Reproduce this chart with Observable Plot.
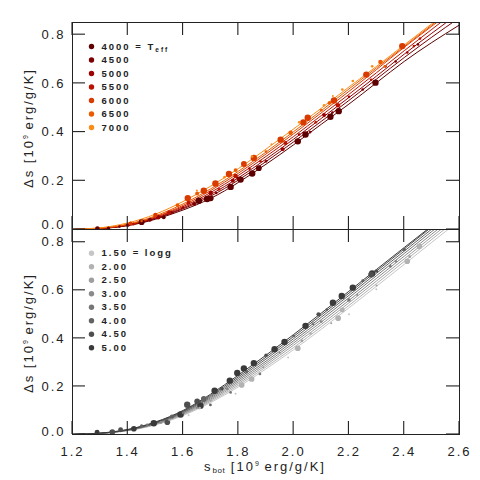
<!DOCTYPE html>
<html><head><meta charset="utf-8">
<script src="https://cdn.jsdelivr.net/npm/d3@7"></script>
<script src="https://cdn.jsdelivr.net/npm/@observablehq/plot@0.6"></script>
<style>
body{margin:0;background:#fff;}
#chart{position:relative;width:480px;height:480px;font-family:"Liberation Sans",Arial,sans-serif;color:#222;}
#chart svg{position:absolute;left:0;overflow:visible;background:none;}
.lab{position:absolute;font-size:13px;letter-spacing:2px;white-space:nowrap;color:#222;line-height:1;}
.lab sup{font-size:7px;vertical-align:5px;letter-spacing:0;}
.lab sub{font-size:8px;vertical-align:-2px;letter-spacing:0.5px;}
</style></head><body><div id="chart"></div>
<script>
// ---------- data ----------
const sGrid = [1.2,1.3,1.4,1.5,1.6,1.7,1.8,1.9,2.0,2.1,2.2,2.3,2.4,2.5,2.6];
const xTicks = [1.2,1.4,1.6,1.8,2.0,2.2,2.4,2.6];
const yTicks = [0.0,0.2,0.4,0.6,0.8];

const teffLevels = [4000,4500,5000,5500,6000,6500,7000];
const teffColors = ["#5e0000","#7d0000","#9c0000","#bb1200","#d93a00","#ec5a00","#fb8c18"];
const teffFits = [
  [0,0.004,0.016,0.042,0.080,0.128,0.193,0.268,0.348,0.432,0.515,0.603,0.690,0.768,0.840],
  [0,0.004,0.017,0.045,0.085,0.137,0.203,0.279,0.360,0.444,0.530,0.618,0.706,0.790,0.870],
  [0,0.005,0.018,0.047,0.089,0.144,0.212,0.289,0.371,0.456,0.542,0.630,0.720,0.806,0.890],
  [0,0.005,0.019,0.050,0.094,0.152,0.222,0.300,0.382,0.468,0.555,0.644,0.734,0.822,0.910],
  [0,0.005,0.020,0.052,0.099,0.160,0.231,0.310,0.393,0.479,0.567,0.657,0.748,0.835,0.920],
  [0,0.006,0.022,0.056,0.105,0.167,0.239,0.318,0.402,0.488,0.577,0.664,0.752,0.840,0.930],
  [0,0.007,0.027,0.063,0.115,0.178,0.250,0.330,0.413,0.498,0.585,0.670,0.758,0.845,0.935]
];
// points: [s_bot, Δs, logg]
const teffPoints = [
  [[1.29,0.004,3.5],[1.33,0.006,2.5],[1.45,0.030,4.5],[1.53,0.050,3],[1.657,0.118,5],[1.687,0.125,5],[1.70,0.128,4.5],[1.772,0.175,5],[1.808,0.205,5],[1.85,0.230,5],[1.874,0.252,4.5],[2.015,0.362,5],[2.043,0.390,5],[2.133,0.463,5],[2.163,0.486,5],[2.296,0.603,5]],
  [[1.37,0.012,2],[1.48,0.040,3],[1.56,0.070,2],[1.64,0.105,3],[1.72,0.150,2],[1.80,0.210,3],[1.90,0.280,2],[2.06,0.400,2],[2.14,0.480,2],[2.25,0.575,2],[2.369,0.690,2],[2.45,0.760,2]],
  [[1.40,0.018,3],[1.51,0.050,3.5],[1.60,0.090,2],[1.70,0.150,3.5],[1.78,0.200,3],[1.84,0.250,2],[1.96,0.330,3],[2.02,0.390,2],[2.11,0.470,3],[2.20,0.545,2],[2.332,0.670,2],[2.411,0.727,2]],
  [[1.42,0.022,2],[1.55,0.070,3.5],[1.62,0.110,3],[1.73,0.165,2],[1.79,0.220,3.5],[1.88,0.280,2],[1.97,0.355,3],[2.08,0.440,2],[2.16,0.510,3.5],[2.28,0.615,2],[2.435,0.753,2],[2.457,0.784,2]],
  [[1.41,0.025,3],[1.50,0.060,3.5],[1.617,0.129,5],[1.675,0.159,5],[1.717,0.189,5],[1.766,0.228,5],[1.82,0.269,4.5],[1.856,0.294,5],[1.953,0.369,5],[2.035,0.440,5],[2.051,0.459,5],[2.146,0.530,5],[2.263,0.636,5],[2.393,0.753,5]],
  [[1.45,0.035,2],[1.58,0.100,3],[1.651,0.148,3],[1.79,0.244,3],[1.90,0.320,2],[1.989,0.397,3.5],[2.10,0.490,2],[2.13,0.520,3],[2.314,0.688,3.5],[2.33,0.670,2]],
  [[1.65,0.160,1.5],[1.75,0.215,2],[1.85,0.300,2],[1.92,0.350,1.5],[2.02,0.440,2],[2.11,0.510,2],[2.142,0.548,1.5],[2.176,0.575,2],[2.214,0.610,2],[2.284,0.670,2]]
];

const loggLevels = ["1.50","2.00","2.50","3.00","3.50","4.00","4.50","5.00"];
const loggColors = ["#c6c6c6","#b2b2b2","#9e9e9e","#8a8a8a","#767676","#626262","#4e4e4e","#3a3a3a"];
const loggFits = [
  [0,0.004,0.016,0.040,0.079,0.133,0.198,0.273,0.353,0.438,0.527,0.617,0.708,0.800,0.890],
  [0,0.004,0.017,0.042,0.082,0.138,0.205,0.281,0.362,0.448,0.537,0.628,0.720,0.812,0.903],
  [0,0.004,0.017,0.043,0.085,0.143,0.212,0.289,0.372,0.458,0.548,0.639,0.731,0.823,0.915],
  [0,0.005,0.018,0.045,0.088,0.148,0.219,0.297,0.381,0.468,0.558,0.650,0.742,0.834,0.925],
  [0,0.005,0.018,0.046,0.091,0.153,0.226,0.305,0.390,0.478,0.569,0.661,0.753,0.845,0.935],
  [0,0.005,0.019,0.048,0.094,0.158,0.233,0.314,0.399,0.488,0.579,0.671,0.763,0.855,0.945],
  [0,0.005,0.020,0.050,0.097,0.163,0.240,0.322,0.408,0.497,0.588,0.680,0.772,0.864,0.955],
  [0,0.006,0.021,0.052,0.100,0.168,0.247,0.330,0.416,0.505,0.596,0.687,0.778,0.868,0.960]
];
// points: [s_bot, Δs, Teff]
const loggPoints = [
  [[1.62,0.080,4000],[1.79,0.170,4000],[1.98,0.320,4000],[2.20,0.500,4000],[2.299,0.604,4000]],
  [[1.66,0.110,4500],[1.812,0.206,6500],[1.848,0.231,6500],[2.015,0.359,6500],[2.061,0.420,4500],[2.161,0.484,6500],[2.176,0.518,6000],[2.411,0.721,6500],[2.455,0.783,6500]],
  [[1.55,0.060,4000],[1.70,0.140,4000],[1.89,0.280,4000],[2.03,0.390,4500],[2.136,0.463,4000],[2.30,0.620,4000],[2.42,0.740,4500]],
  [[1.52,0.050,4500],[1.65,0.110,4000],[1.76,0.190,4500],[1.95,0.340,4000],[2.10,0.470,4500],[2.23,0.580,4000],[2.37,0.720,4500]],
  [[1.47,0.040,4500],[1.60,0.090,4500],[1.772,0.175,4500],[1.878,0.252,4500],[2.07,0.460,4500],[2.20,0.560,5000],[2.35,0.700,4500]],
  [[1.45,0.035,5000],[1.56,0.075,5500],[1.675,0.148,6500],[1.699,0.123,4500],[1.83,0.260,4500],[2.00,0.410,4500],[2.12,0.520,4500],[2.25,0.640,4500],[2.40,0.770,5000]],
  [[1.344,0.010,6500],[1.374,0.020,6000],[1.543,0.051,6500],[1.615,0.124,7000],[1.651,0.138,6500],[1.74,0.190,5000],[1.90,0.330,5000],[2.09,0.500,5500],[2.28,0.665,6500],[2.30,0.680,5000]],
  [[1.289,0.010,6000],[1.422,0.024,6500],[1.494,0.047,7000],[1.591,0.083,7000],[1.663,0.120,7000],[1.714,0.182,7000],[1.769,0.224,7000],[1.796,0.256,7000],[1.82,0.275,7000],[1.856,0.297,7000],[1.931,0.355,7000],[1.967,0.385,7000],[2.043,0.452,7000],[2.142,0.548,7000],[2.174,0.576,7000],[2.214,0.611,7000],[2.284,0.670,7000]]
];

// ---------- tables ----------
const topLines = teffLevels.flatMap((t,i) => sGrid.map((s,j) => ({s, ds: teffFits[i][j], g: t})));
const topPts = teffLevels.flatMap((t,i) => teffPoints[i].map(([s,ds,logg]) => ({s, ds, logg, g: t})));
const botLines = loggLevels.flatMap((l,i) => sGrid.map((s,j) => ({s, ds: loggFits[i][j], g: l})));
const botPts = loggLevels.flatMap((l,i) => loggPoints[i].map(([s,ds,teff]) => ({s, ds, teff, g: l})));

const INK = "#222";
const FONT = {fontFamily:'"Liberation Sans", Arial, sans-serif', fontSize:"13px", color:INK, overflow:"visible", letterSpacing:"2px", background:"none"};
const fmt = d3.format(".1f");
const TL = 13;             // tick length in pixels
const TW = 1.1;            // tick thickness in pixels
const W = 480, ML = 72, MR = 21;
const XDOM = [1.2, 2.6];

// inward ticks as thin filled rectangles (non-degenerate boxes), pixel sizes converted to scale units
function tickRects(yTop, frameH) {
  const ux = (XDOM[1] - XDOM[0]) / (W - ML - MR);   // x units per pixel
  const uy = yTop / frameH;                         // y units per pixel
  const hx = ux * TW / 2, hy = uy * TW / 2;
  const rows = [];
  for (const v of xTicks) {
    rows.push({x1: v - hx, x2: v + hx, y1: yTop - uy * TL, y2: yTop});
    rows.push({x1: v - hx, x2: v + hx, y1: 0, y2: uy * TL});
  }
  for (const v of yTicks) {
    rows.push({x1: XDOM[0], x2: XDOM[0] + ux * TL, y1: v - hy, y2: v + hy});
    rows.push({x1: XDOM[1] - ux * TL, x2: XDOM[1], y1: v - hy, y2: v + hy});
  }
  return rows;
}

function frameAxes(showX, zeroShift, yTop, frameH) {
  return [
    Plot.rect(tickRects(yTop, frameH), {x1:"x1", x2:"x2", y1:"y1", y2:"y2", fill:INK}),
    Plot.frame({stroke: INK}),
    Plot.axisY(yTicks.filter(v => v !== 0), {anchor:"left", tickSize:0, tickPadding:7, tickFormat:fmt, label:null}),
    Plot.axisY([0], {anchor:"left", tickSize:0, tickPadding:7, tickFormat:fmt, label:null, dy:-zeroShift}),
    showX ? Plot.axisX(xTicks, {anchor:"bottom", tickSize:0, tickPadding:12, tickFormat:fmt, label:null}) : null
  ];
}
function legend(levels, labels, dy0) {
  return levels.flatMap((v,i) => [
    Plot.dot([v], {frameAnchor:"top-left", dx:19, dy:dy0 + i*13.5, r:2.7, fill:d=>d}),
    Plot.text([labels[i]], {frameAnchor:"top-left", dx:29, dy:dy0 + i*13.5, text:d=>d, textAnchor:"start", lineAnchor:"middle", fontSize:9.5, fontWeight:"bold", fill:INK, style:{letterSpacing:"0.5px"}})
  ]);
}

const topPlot = Plot.plot({
  width:W, height:230, marginLeft:ML, marginRight:MR, marginTop:22, marginBottom:1,
  style: FONT,
  x:{domain:XDOM, axis:null}, y:{domain:[0,0.85]},
  color:{type:"ordinal", domain:teffLevels, range:teffColors},
  r:{type:"linear", domain:[1.5,5], range:[1.0,3.2]},
  marks:[
    Plot.line(topLines, {x:"s", y:"ds", z:"g", stroke:"g", strokeWidth:1, curve:"natural", clip:true}),
    Plot.dot(topPts, {x:"s", y:"ds", r:"logg", fill:"g", clip:true}),
    ...frameAxes(false, 5, 0.85, 207),
    ...legend(teffLevels, teffLevels.map((t,i) => i === 0 ? `${t} = Teff` : `${t}`), 24)
  ]
});
topPlot.style.top = "0px";

const botPlot = Plot.plot({
  width:W, height:252, marginLeft:ML, marginRight:MR, marginTop:1, marginBottom:46,
  style: FONT,
  x:{domain:XDOM}, y:{domain:[0,0.853]},
  color:{type:"ordinal", domain:loggLevels, range:loggColors},
  r:{type:"linear", domain:[4000,7000], range:[1.0,3.2]},
  marks:[
    Plot.line(botLines, {x:"s", y:"ds", z:"g", stroke:"g", strokeWidth:1, curve:"natural", clip:true}),
    Plot.dot(botPts, {x:"s", y:"ds", r:"teff", fill:"g", clip:true}),
    ...frameAxes(true, 3, 0.853, 205),
    ...legend(loggLevels, loggLevels.map((l,i) => i === 0 ? `${l} = logg` : l), 23.7)
  ]
});
botPlot.style.top = "228px";

const chart = document.getElementById("chart");
chart.append(botPlot, topPlot);

// subscript for T_eff in legend
d3.select(topPlot).selectAll("text").each(function() {
  if (this.textContent.endsWith("= Teff")) {
    const base = this.textContent.replace(/eff$/, "");
    const el = d3.select(this); el.text(null);
    el.append("tspan").text(base);
    el.append("tspan").attr("font-size", 6.5).attr("dy", "0.35em").text("eff");
  }
});

// axis titles
function addLabel(html, left, top, rotate) {
  const d = document.createElement("div");
  d.className = "lab"; d.innerHTML = html;
  d.style.left = left + "px"; d.style.top = top + "px";
  d.style.transform = `translate(-50%,-50%)${rotate ? " rotate(-90deg)" : ""}`;
  chart.appendChild(d);
}
addLabel("Δs [10<sup>9</sup> erg/g/K]", 28, 128, true);
addLabel("Δs [10<sup>9</sup> erg/g/K]", 28, 333, true);
addLabel("s<sub>bot</sub> [10<sup>9</sup> erg/g/K]", 265, 467, false);
</script>
</body></html>
